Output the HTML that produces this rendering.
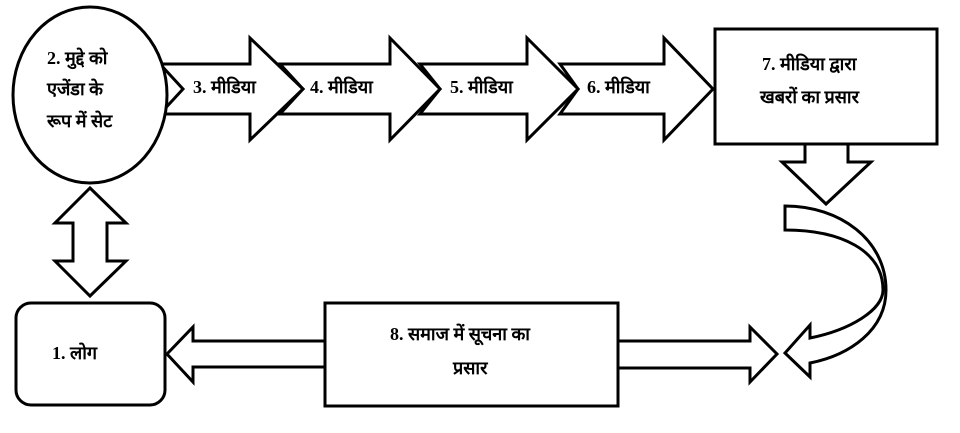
<!DOCTYPE html>
<html><head><meta charset="utf-8"><style>
html,body{margin:0;padding:0;background:#fff;}
svg{display:block}
text{font-family:"Liberation Serif","Noto Serif CJK SC",serif;font-weight:bold;font-size:18px;fill:#000}
</style></head><body>
<svg width="960" height="433" viewBox="0 0 960 433" xmlns="http://www.w3.org/2000/svg">
<g fill="#fff" stroke="#000" stroke-width="3" stroke-linejoin="miter">
<polygon points="560,64 664,64 664,38 713,89 664,140 664,114 560,114 578,89"/>
<polygon points="420,64 527,64 527,38 578,89 527,140 527,114 420,114 440,89"/>
<polygon points="280,64 390,64 390,38 440,89 390,140 390,114 280,114 303,89"/>
<polygon points="160,64 250,64 250,38 303,89 250,140 250,114 160,114 183,89"/>
<ellipse cx="90" cy="95" rx="77" ry="88"/>
<rect x="715" y="29" width="222" height="115"/>
<polygon points="805,144 848,144 848,162 871,162 826,204 782,162 805,162"/>
<path d="M785,206 C840,206 886,240 886,290 C886,330 850,355 810,363 L810,377 L785,353 L810,325 L810,338 C850,330 883,310 883,290 C883,250 840,230 785,230 Z"/>
<polygon points="90,188 126,223 107,223 107,261 126,261 90,296 55,261 73,261 73,223 55,223"/>
<rect x="16" y="303" width="149" height="102" rx="15" ry="15"/>
<polygon points="330,341 193,341 193,327 167,354 193,382 193,367 330,367"/>
<polygon points="612,341 750,341 750,327 777,354 750,382 750,368 612,368"/>
<rect x="325" y="303" width="293" height="103"/>
</g>
<text x="47" y="64">2. मुद्दे को</text>
<text x="47" y="95">एजेंडा के</text>
<text x="47" y="127">रूप में सेट</text>
<text x="193" y="93">3. मीडिया</text>
<text x="310" y="93">4. मीडिया</text>
<text x="450" y="93">5. मीडिया</text>
<text x="587" y="93">6. मीडिया</text>
<text x="762" y="70">7. मीडिया द्वारा</text>
<text x="760" y="103">खबरों का प्रसार</text>
<text x="52" y="359">1. लोग</text>
<text x="390" y="340">8. समाज में सूचना का</text>
<text x="453" y="374">प्रसार</text>
</svg>
</body></html>
